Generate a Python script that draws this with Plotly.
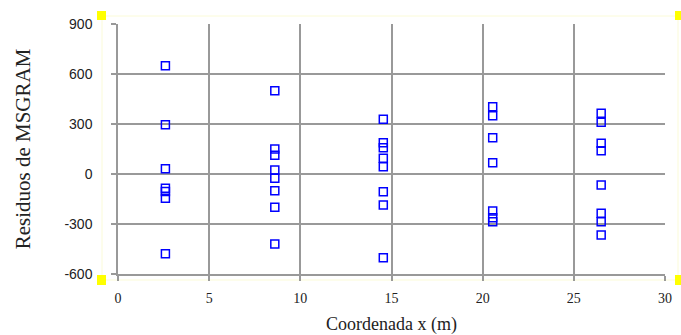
import plotly.graph_objects as go

# Data
x_positions = [2.6, 8.6, 14.55, 20.55, 26.5]
residuals = [
    [650, 295, 32, -85, -105, -145, -478],
    [500, 150, 112, 24, -26, -100, -200, -420],
    [328, 188, 158, 94, 44, -106, -186, -502],
    [404, 350, 218, 68, -222, -262, -286],
    [364, 310, 184, 140, -66, -236, -286, -366],
]

xs, ys = [], []
for xp, vals in zip(x_positions, residuals):
    for v in vals:
        xs.append(xp)
        ys.append(v)

x_ticks = [0, 5, 10, 15, 20, 25, 30]
y_ticks = [-600, -300, 0, 300, 600, 900]

W, H = 681, 335
L, R, T, B = 118, 665, 24, 274

fig = go.Figure()
fig.add_trace(go.Scatter(
    x=xs, y=ys, mode="markers",
    marker=dict(symbol="square-open", size=8, color="#0000ff",
                line=dict(color="#0000ff", width=1.5)),
    showlegend=False, cliponaxis=False,
))

def px(xpix):
    return (xpix - L) / (R - L)

def py(ypix):
    return (B - ypix) / (B - T)

shapes = []
# faint yellow frame
shapes.append(dict(type="rect", xref="paper", yref="paper",
                   x0=px(102), x1=px(678), y0=py(280), y1=py(16),
                   line=dict(color="#fbfbd8", width=1), layer="below"))
# yellow handles
for (x0, y0, x1, y1) in [(97, 11, 106, 20), (675, 11, 684, 20),
                         (97, 275, 106, 285), (675, 275, 684, 285)]:
    shapes.append(dict(type="rect", xref="paper", yref="paper",
                       x0=px(x0), x1=px(x1), y0=py(y1), y1=py(y0),
                       fillcolor="#ffff00", line=dict(width=0)))

fig.update_layout(
    width=W, height=H,
    margin=dict(l=L, r=W - R, t=T, b=H - B),
    paper_bgcolor="white", plot_bgcolor="white",
    shapes=shapes,
    xaxis=dict(
        range=[0, 30], tickvals=x_ticks, ticktext=[str(t) for t in x_ticks],
        showgrid=True, gridcolor="#999999", gridwidth=1.5,
        showline=True, linecolor="#999999", linewidth=1.5,
        ticks="outside", ticklen=5, tickcolor="#999999", tickwidth=1.5,
        zeroline=False, ticklabelstandoff=5, automargin=False,
        tickfont=dict(family="Liberation Serif", size=14, color="#222222"),
        title=dict(text="Coordenada x (m)", standoff=14,
                   font=dict(family="Liberation Serif", size=18, color="#222222")),
    ),
    yaxis=dict(
        range=[-600, 900], tickvals=y_ticks, ticktext=[str(t) for t in y_ticks],
        showgrid=True, gridcolor="#999999", gridwidth=1.5,
        showline=True, linecolor="#999999", linewidth=1.5,
        ticks="outside", ticklen=5, tickcolor="#999999", tickwidth=1.5,
        zeroline=False, ticklabelstandoff=16, automargin=False,
        tickfont=dict(family="Liberation Sans", size=14, color="#222222"),
        title=dict(text="Residuos de MSGRAM", standoff=28,
                   font=dict(family="Liberation Serif", size=21, color="#222222")),
    ),
)

fig.write_html("out.html")
